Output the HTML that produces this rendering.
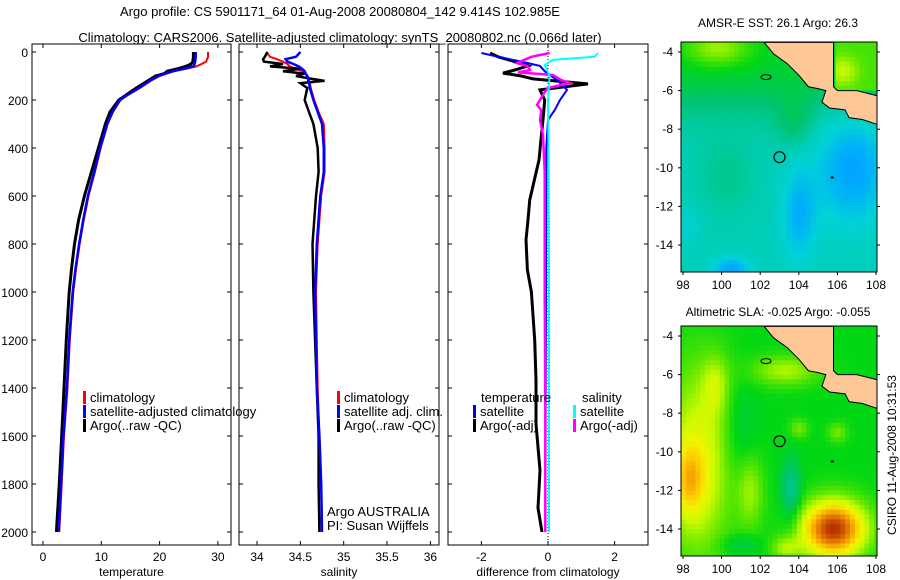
<!DOCTYPE html>
<html><head><meta charset="utf-8"><style>
body{margin:0;background:#fff;}
svg{display:block;font-family:"Liberation Sans",sans-serif;}
</style></head><body>
<svg id="fig" width="900" height="580" viewBox="0 0 900 580">
<defs>
<clipPath id="clip1"><rect x="681" y="42" width="196" height="230"/></clipPath>
<clipPath id="clip2"><rect x="681" y="326" width="196" height="230"/></clipPath>
</defs>
<text x="340" y="16" font-size="13" text-anchor="middle">Argo profile: CS 5901171_64 01-Aug-2008 20080804_142 9.414S 102.985E</text>
<text x="340" y="42" font-size="13" text-anchor="middle">Climatology: CARS2006. Satellite-adjusted climatology: synTS_20080802.nc (0.066d later)</text>
<text x="778" y="27" font-size="12" text-anchor="middle">AMSR-E SST: 26.1 Argo: 26.3</text>
<text x="778" y="316" font-size="12" text-anchor="middle">Altimetric SLA: -0.025 Argo: -0.055</text>
<g id="panels"></g>
<g id="maps"></g>
<text x="0" y="0" font-size="12" text-anchor="middle" transform="translate(896,455) rotate(-90)">CSIRO 11-Aug-2008 10:31:53</text>
</svg>
<script>
// ---- Temperature panel data ----
const depthT=[0,20,40,50,60,70,80,90,100,120,150,180,200,250,300,400,500,600,700,800,900,1000,1200,1400,1600,1800,2000];
const climT=[28.3,28.3,28.0,27.2,26.3,24.5,22.5,21.2,20.0,18.5,16.6,14.5,13.3,12.0,11.1,9.9,8.9,7.8,7.0,6.3,5.7,5.2,4.6,4.2,3.6,3.2,2.8];
const satT=[26.2,26.2,26.1,26.0,25.8,24.2,22.3,21.0,19.8,18.3,16.5,14.4,13.2,11.9,11.0,9.8,8.8,7.7,6.9,6.2,5.6,5.1,4.5,4.1,3.5,3.1,2.7];
const argoT=[25.8,25.8,25.7,25.4,24.5,23.0,21.3,20.8,19.3,18.0,16.0,14.2,13.0,11.5,10.7,9.5,8.3,7.1,6.1,5.4,4.9,4.5,4.0,3.6,3.2,2.8,2.3];
// ---- Salinity panel data ----
const depthS=[0,20,30,40,50,60,70,80,90,100,110,120,130,150,200,250,300,400,500,600,800,1000,1200,1400,1600,1800,2000];
const climS=[34.11,34.15,34.23,34.3,34.35,34.38,34.45,34.52,34.56,34.58,34.6,34.6,34.61,34.62,34.66,34.71,34.77,34.78,34.78,34.74,34.70,34.68,34.69,34.70,34.72,34.74,34.75];
const satS=[34.5,34.45,34.33,34.35,34.42,34.48,34.52,34.55,34.56,34.58,34.59,34.59,34.6,34.61,34.65,34.7,34.75,34.77,34.77,34.73,34.69,34.67,34.68,34.69,34.72,34.74,34.75];
const argoS=[34.12,34.09,34.07,34.08,34.3,34.15,34.5,34.3,34.55,34.45,34.6,34.78,34.5,34.58,34.55,34.6,34.65,34.7,34.71,34.68,34.64,34.65,34.67,34.69,34.71,34.71,34.72];
// ---- Difference panel data ----
const depthDTargo=[4,20,40,58,75,88,100,112,133,158,200,283,350,450,617,700,783,908,1000,1200,1367,1550,1742,1900,2000];
const dTargo=[-1.74,-1.5,-1.0,-0.6,-1.0,-1.35,-0.8,-0.45,1.2,-0.24,-0.1,-0.15,-0.2,-0.27,-0.55,-0.6,-0.66,-0.62,-0.5,-0.4,-0.36,-0.36,-0.24,-0.3,-0.18];
const depthDTsat=[4,20,40,58,80,120,158,200,242,283,400,1000,2000];
const dTsat=[-2.0,-1.5,-0.8,-0.24,-0.1,0.3,0.57,0.36,0.2,0.0,-0.05,-0.06,-0.08];
const depthDSsat=[4,20,33,54,100,200,500,1000,2000];
const dSsat=[1.5,1.4,0.15,-0.1,0.05,0.0,0.02,0.03,0.03];
const depthDSargo=[4,20,46,60,75,85,96,117,129,150,167,221,242,283,346,500,1000,1500,2000];
const dSargo=[0.05,-0.5,-0.93,-0.6,-0.54,-0.9,0.15,0.4,0.66,0.0,-0.1,-0.33,-0.2,-0.24,-0.15,-0.1,-0.1,-0.08,-0.08];
// ---- tick labels ----
const depthTicks=[0,200,400,600,800,1000,1200,1400,1600,1800,2000];
const tempTicks=[0,10,20,30];
const salTicks=["34","34.5","35","35.5","36"];
const diffTicks=[-2,0,2];

const NS="http://www.w3.org/2000/svg";
function mk(tag,attrs,parent){const e=document.createElementNS(NS,tag);for(const k in attrs)e.setAttribute(k,attrs[k]);parent.appendChild(e);return e;}
const yTop=52, yScale=0.24, pTop=44, pBot=545;
const yD=d=>yTop+d*yScale;
const panelsG=document.getElementById('panels');
const panels=[
 {name:'temperature',x0:32,x1:231,fx:v=>43+v*5.83,ticks:tempTicks,label:'temperature'},
 {name:'salinity',x0:239,x1:439,fx:v=>257+(v-34)*86.7,ticks:salTicks,label:'salinity'},
 {name:'difference',x0:448,x1:648,fx:v=>548+v*33.3,ticks:diffTicks,label:'difference from climatology'}
];
function line(p,depths,vals,color,w,name){
  const pts=depths.map((d,i)=>p.fx(+vals[i]).toFixed(1)+','+yD(d).toFixed(1)).join(' ');
  const e=mk('polyline',{points:pts,fill:'none',stroke:color,'stroke-width':w,'stroke-linejoin':'miter'},panelsG);
  
  
}
panels.forEach((p,pi)=>{
  const r=mk('rect',{x:p.x0,y:pTop,width:p.x1-p.x0,height:pBot-pTop,fill:'none',stroke:'#000','stroke-width':1},panelsG);
  
  
  depthTicks.forEach(d=>{
    const y=yD(d);
    mk('line',{x1:p.x0,x2:p.x0+4,y1:y,y2:y,stroke:'#000'},panelsG);
    mk('line',{x1:p.x1-4,x2:p.x1,y1:y,y2:y,stroke:'#000'},panelsG);
    if(pi===0){const t=mk('text',{x:28,y:y+5,'font-size':12,'text-anchor':'end'},panelsG);t.textContent=d;
      
      }
  });
  p.ticks.forEach(v=>{
    const x=p.fx(+v);
    mk('line',{x1:x,x2:x,y1:pBot-4,y2:pBot,stroke:'#000'},panelsG);
    mk('line',{x1:x,x2:x,y1:pTop,y2:pTop+4,stroke:'#000'},panelsG);
    const t=mk('text',{x:x,y:561,'font-size':12,'text-anchor':'middle'},panelsG);t.textContent=v;
    
    
  });
  const xl=mk('text',{x:(p.x0+p.x1)/2,y:576,'font-size':12,'text-anchor':'middle'},panelsG);xl.textContent=p.label;
  
  
});
const [P1,P2,P3]=panels;
line(P1,depthT,climT,'#ff0000',2,'temp-climatology-line');
line(P1,depthT,argoT,'#000000',3,'temp-argo-line');
line(P1,depthT,satT,'#0000ff',2.5,'temp-satellite-line');
line(P2,depthS,climS,'#ff0000',2,'sal-climatology-line');
line(P2,depthS,argoS,'#000000',2.5,'sal-argo-line');
line(P2,depthS,satS,'#0000ff',2.5,'sal-satellite-line');
const z=mk('line',{x1:548,x2:548,y1:pTop,y2:pBot,stroke:'#000','stroke-dasharray':'1,2'},panelsG);


line(P3,depthDTargo,dTargo,'#000000',3,'diff-temp-argo-line');
line(P3,depthDTsat,dTsat,'#0000ff',2,'diff-temp-satellite-line');
line(P3,depthDSargo,dSargo,'#ff00ff',2.5,'diff-sal-argo-line');
line(P3,depthDSsat,dSsat,'#00ffff',2,'diff-sal-satellite-line');

function legend(x,y,color,text,name){
  if(color){mk('rect',{x:x,y:y-11,width:3,height:13,fill:color},panelsG);}
  const t=mk('text',{x:x+7,y:y,'font-size':13},panelsG);t.textContent=text;
  
  
}
legend(83,402,'#ff0000','climatology','legend-climatology');
legend(83,416,'#0000ff','satellite-adjusted climatology','legend-satellite-adjusted');
legend(83,430,'#000000','Argo(..raw -QC)','legend-argo');
legend(337,402,'#ff0000','climatology','legend-sal-climatology');
legend(337,416,'#0000ff','satellite adj. clim.','legend-sal-satellite');
legend(337,430,'#000000','Argo(..raw -QC)','legend-sal-argo');
legend(474,402,null,'temperature','legend-temp-header');
legend(473,416,'#0000ff','satellite','legend-diff-temp-satellite');
legend(473,430,'#000000','Argo(-adj)','legend-diff-temp-argo');
legend(575,402,null,'salinity','legend-sal-header');
legend(573,416,'#00ffff','satellite','legend-diff-sal-satellite');
legend(573,430,'#ff00ff','Argo(-adj)','legend-diff-sal-argo');
legend(320,516,null,'Argo AUSTRALIA','credit-line-1');
legend(320,530,null,'PI: Susan Wijffels','credit-line-2');

// ---- Maps ----
const mapsG=document.getElementById('maps');
const lonTicks=[98,100,102,104,106,108];
const latTicks=[-4,-6,-8,-10,-12,-14];
const cmap=[[0,[30,120,255]],[0.12,[0,170,255]],[0.22,[0,210,215]],[0.32,[0,205,175]],[0.42,[0,195,110]],[0.52,[0,215,20]],[0.6,[90,230,0]],[0.68,[200,250,0]],[0.74,[240,245,0]],[0.8,[255,200,0]],[0.9,[225,110,0]],[1,[160,20,0]]];
function col(v){v=Math.max(0,Math.min(1,v));for(let i=1;i<cmap.length;i++){if(v<=cmap[i][0]){const a=cmap[i-1],b=cmap[i],t=(v-a[0])/(b[0]-a[0]);return 'rgb('+a[1].map((c,k)=>Math.round(c+(b[1][k]-c)*t)).join(',')+')';}}return 'rgb(160,20,0)';}
const blob=(lo,la,cx,cy,rx,ry)=>Math.exp(-(((lo-cx)/rx)**2+((la-cy)/ry)**2));
function sst(lo,la){let v=0.3+0.2/(1+Math.exp(-(la+6.8)*1.3));v+=0.15*blob(lo,la,99.8,-3.8,1.8,1);v+=0.1*blob(lo,la,103.8,-7.8,1.0,1.3);
 v-=0.2*blob(lo,la,106.8,-10,2.0,3);v-=0.16*blob(lo,la,104,-12.5,0.9,2.5);v-=0.2*blob(lo,la,100.5,-15.3,1.0,0.7);v+=0.07*blob(lo,la,100.2,-10.5,1.5,2);
 v-=0.06*blob(lo,la,98.3,-13,0.6,1);
 if(lo>105.8&&la>-6)v=0.58+0.1*blob(lo,la,106.3,-5,0.8,0.8);return v;}
function sla(lo,la){let v=0.52;v+=0.2*blob(lo,la,98.8,-10.5,1.8,5);v+=0.14*blob(lo,la,98.3,-11.5,0.8,1.8);v+=0.1*blob(lo,la,99.7,-6.5,0.7,1.5);
 v+=0.45*blob(lo,la,105.8,-14,1.7,1.5);v-=0.16*blob(lo,la,103.6,-12,0.5,1.6);v+=0.14*blob(lo,la,103.3,-5.8,1.8,0.8);v-=0.07*blob(lo,la,101,-9,0.9,2.5);
 v+=0.1*blob(lo,la,104,-8.8,0.5,0.5);v+=0.1*blob(lo,la,106,-9,0.5,0.5);v-=0.08*blob(lo,la,101,-14.8,1,0.5);v+=0.12*blob(lo,la,101.5,-12,0.7,2);
 v+=0.12*blob(lo,la,103.3,-15,0.8,0.6);return v;}
const land=[[102.2,-3.5],[102.7,-4.1],[103.4,-4.6],[104,-5.2],[104.5,-5.8],[105,-5.9],[105.4,-6.0],[105.2,-6.6],[105.6,-6.9],[106.4,-7.0],[106.6,-7.4],[107.3,-7.5],[108.2,-7.8],[108.2,-6.3],[107,-6.0],[106,-6.0],[105.8,-5.8],[105.8,-3.5]];
function drawMap(top,field,name,clip){
  const L=681,R=877,B=top+230,fx=lo=>683+(lo-98)*19.3,fy=la=>top+10+(-4-la)*19.3;
  const g=mk('g',{},mapsG);
  
  const c=mk('g',{'clip-path':'url(#'+clip+')'},g);
  const step=0.25;
  for(let lo=97.9;lo<108.2;lo+=step)for(let la=-3.5;la>-15.5;la-=step){
    mk('rect',{x:fx(lo).toFixed(1),y:fy(la).toFixed(1),width:5.2,height:5.2,fill:col(field(lo+step/2,la-step/2))},c);
  }
  mk('polygon',{points:land.map(p=>fx(p[0])+','+fy(p[1])).join(' '),fill:'#fdc896',stroke:'#000','stroke-width':1},c);
  mk('ellipse',{cx:fx(102.3),cy:fy(-5.3),rx:5,ry:2.5,fill:'none',stroke:'#000'},c);
  mk('rect',{x:fx(105.65),y:fy(-10.45),width:3,height:2,fill:'#000'},c);
  mk('circle',{cx:fx(103),cy:fy(-9.45),r:5.5,fill:'none',stroke:'#000','stroke-width':1.2},c);
  mk('rect',{x:L,y:top,width:R-L,height:230,fill:'none',stroke:'#000'},g);
  latTicks.forEach(la=>{const y=fy(la);mk('line',{x1:L-3,x2:L,y1:y,y2:y,stroke:'#000'},g);mk('line',{x1:R,x2:R+3,y1:y,y2:y,stroke:'#000'},g);
    const t=mk('text',{x:673,y:y+4,'font-size':12,'text-anchor':'end'},g);t.textContent=la;});
  lonTicks.forEach(lo=>{const x=fx(lo);mk('line',{x1:x,x2:x,y1:B,y2:B+3,stroke:'#000'},g);
    const t=mk('text',{x:x,y:B+17,'font-size':12,'text-anchor':'middle'},g);t.textContent=lo;});
}
drawMap(42,sst,'sst-map','clip1');
drawMap(326,sla,'sla-map','clip2');
</script>
</body></html>
